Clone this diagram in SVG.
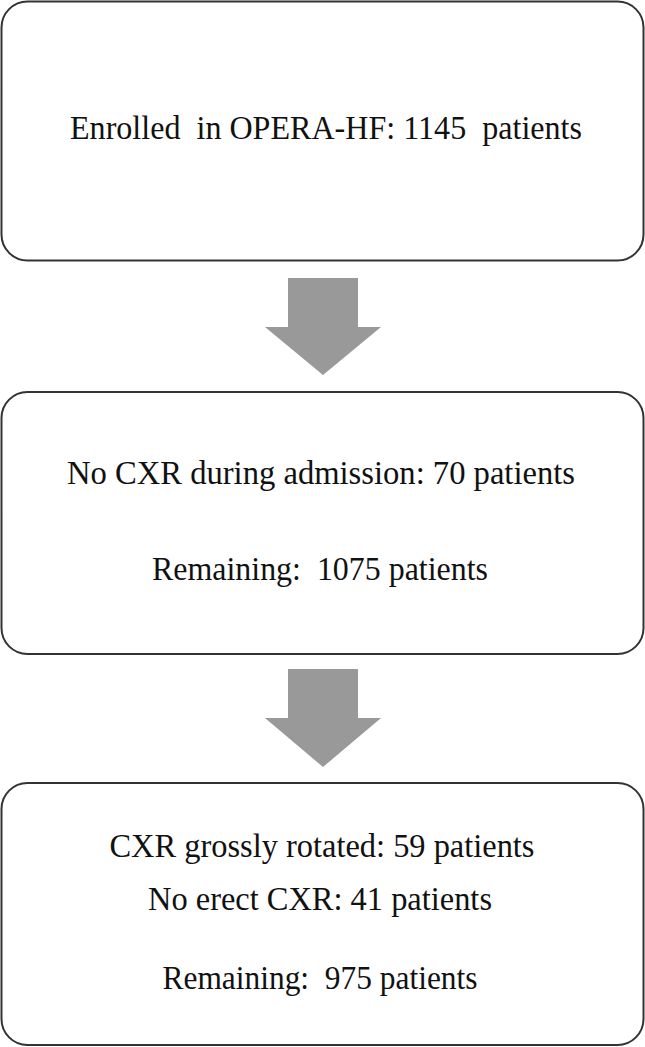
<svg xmlns="http://www.w3.org/2000/svg" width="645" height="1047" viewBox="0 0 645 1047">
<style>
.box{fill:#fff;stroke:#333;stroke-width:2}
.arr{fill:#999;stroke:none}
.t{font-size:33px;fill:#111;text-anchor:middle;white-space:pre}
</style>
<rect width="645" height="1047" fill="#fff"/>
<g id="connectors">
<path class="arr" d="M288 278H358V327H381L323 375L265 327H288Z"/>
<path class="arr" d="M288 669H358V718H381L323 767L265 718H288Z"/>
</g>
<g font-family="'Liberation Serif', 'DejaVu Serif', serif">
<g id="node1">
<rect class="box" x="1.5" y="1.5" width="642" height="259" rx="26"/>
<text class="t" x="326" y="139" textLength="512" lengthAdjust="spacingAndGlyphs">Enrolled  in OPERA-HF: 1145  patients</text>
</g>
<g id="node2">
<rect class="box" x="1.5" y="392" width="642" height="262" rx="26"/>
<text class="t" x="321" y="484" textLength="508" lengthAdjust="spacingAndGlyphs">No CXR during admission: 70 patients</text>
<text class="t" x="320" y="580" textLength="336" lengthAdjust="spacingAndGlyphs">Remaining:  1075 patients</text>
</g>
<g id="node3">
<rect class="box" x="1.5" y="783" width="642" height="262" rx="26"/>
<text class="t" x="322" y="857" textLength="425" lengthAdjust="spacingAndGlyphs">CXR grossly rotated: 59 patients</text>
<text class="t" x="320" y="910" textLength="344" lengthAdjust="spacingAndGlyphs">No erect CXR: 41 patients</text>
<text class="t" x="320" y="989" textLength="315" lengthAdjust="spacingAndGlyphs">Remaining:  975 patients</text>
</g>
</g>
</svg>
